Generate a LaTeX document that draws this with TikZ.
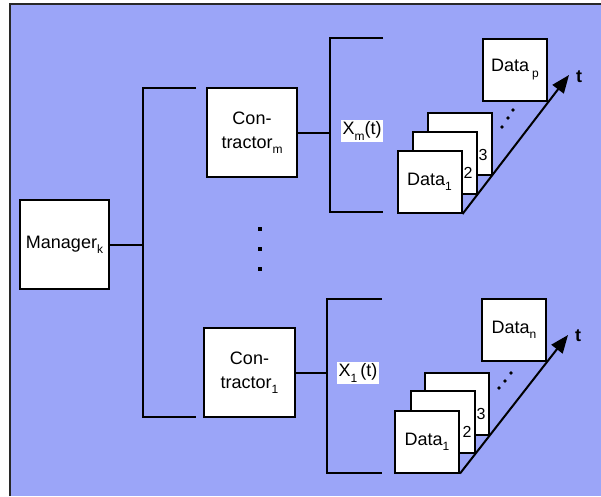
\documentclass[tikz,border=0pt]{standalone}
\usepackage{fontspec}
\setmainfont{Liberation Sans}
\usetikzlibrary{arrows.meta}
\definecolor{dotblue}{RGB}{155,165,248}
\definecolor{framegray}{RGB}{40,40,40}
\newcommand\lowsub[1]{\raisebox{-0.3em}{\fontsize{12}{12}\selectfont #1}}
\tikzset{
  wbox/.style={draw=black, fill=white, line width=2pt, inner sep=0pt,
    font=\fontsize{18}{24}\selectfont, align=center},
  databox/.style={wbox, minimum width=64pt, minimum height=62pt},
  wire/.style={line width=2pt, draw=black},
  tarrow/.style={line width=2pt, -{Triangle[length=18pt,width=14pt]}},
  lbl/.style={fill=white, inner sep=1.5pt, font=\fontsize{18}{20}\selectfont},
  num/.style={inner sep=0pt, font=\fontsize{16}{16}\selectfont},
  tlabel/.style={inner sep=0pt, font=\fontsize{18}{18}\selectfont\bfseries},
  pt/.style={fill=black, circle, inner sep=0pt, minimum size=3.6pt}
}
\begin{document}
\begin{tikzpicture}[x=1pt, y=-1pt]
\useasboundingbox (0,0) rectangle (601,496);
% dotted blue backdrop with its frame
\fill[dotblue] (10,4) rectangle (601,496);
\draw[framegray, line width=2pt] (10,496) -- (10,4) -- (601,4);

% manager and contractors
\node[wbox, minimum width=89pt, minimum height=89pt] (mgr) at (64.5,244.5) {Manager\lowsub{k}};
\node[wbox, minimum width=90pt, minimum height=89pt] (conm) at (252,132.5) {Con-\\tractor\lowsub{m}};
\node[wbox, minimum width=91pt, minimum height=89pt] (con1) at (249.5,372.5) {Con-\\tractor\lowsub{1}};

% bus from the manager
\coordinate (busmid) at (143,244.5);
\coordinate (bustop) at (143,88);
\coordinate (busbot) at (143,417);
\coordinate (bustopend) at (196,88);
\coordinate (busbotend) at (196,417);
\draw[wire] (mgr.east) -- (busmid);
\draw[wire] (bustopend) -- (bustop) -- (busbot) -- (busbotend);

% vertical ellipsis between contractors
\foreach \yy in {229,249,269} \node[pt, rectangle, minimum size=3.6pt] at (260,\yy) {};

% bracket of contractor m
\coordinate (bm) at (330,132.5);
\coordinate (bmt) at (330,38);
\coordinate (bmb) at (330,212);
\coordinate (bmte) at (383,38);
\coordinate (bmbe) at (383,212);
\draw[wire] (conm.east) -- (bm);
\draw[wire] (bmte) -- (bmt) -- (bmb) -- (bmbe);
\node[lbl] (xm) at (362,131) {X\lowsub{m}(t)};

% bracket of contractor 1
\coordinate (b1) at (327,372.5);
\coordinate (b1t) at (327,299);
\coordinate (b1b) at (327,473);
\coordinate (b1te) at (382,299);
\coordinate (b1be) at (382,473);
\draw[wire] (con1.east) -- (b1);
\draw[wire] (b1te) -- (b1t) -- (b1b) -- (b1be);
\node[lbl] (x1) at (358,373) {X\lowsub{1}\,(t)};

% upper data stack
\node[databox] (u3) at (460,144) {};
\node[databox] (u2) at (445,162.5) {};
\node[databox] (u1) at (429.5,182) {Data\lowsub{1}};
\node[databox] (up) at (515,69.5) {Data\hspace{3pt}\lowsub{p}};
\node[num] at (468,173) {2};
\node[num] at (483,155) {3};
\node[pt] at (502,127) {};
\node[pt] at (508,118) {};
\node[pt] at (513,110) {};
\coordinate (ut) at (569,75);
\draw[tarrow] (u1.south east) -- (ut);
\node[tlabel] at (579,77) {t};

% lower data stack
\node[databox] (l3) at (457,403.5) {};
\node[databox] (l2) at (443,422) {};
\node[databox] (l1) at (427,441.5) {Data\lowsub{1}};
\node[databox] (ln) at (514,329.5) {Data\lowsub{n}};
\node[num] at (467,432) {2};
\node[num] at (481,414) {3};
\node[pt] at (499,388) {};
\node[pt] at (505,381) {};
\node[pt] at (511,373) {};
\coordinate (lt) at (568,335);
\draw[tarrow] (l1.south east) -- (lt);
\node[tlabel] at (578,336) {t};
\end{tikzpicture}
\end{document}
